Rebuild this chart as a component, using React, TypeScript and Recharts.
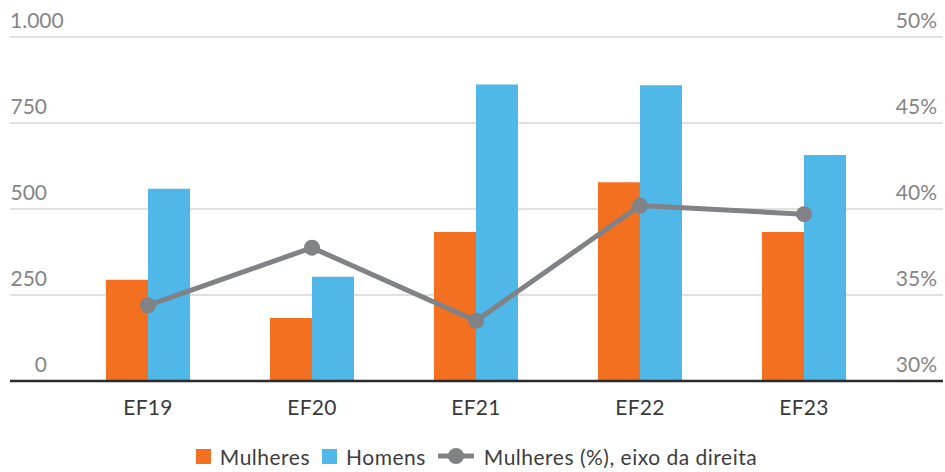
import type { FC, ReactNode } from 'react'
import {
    ComposedChart,
    Bar,
    Line,
    XAxis,
    YAxis,
    CartesianGrid,
    Legend
} from 'recharts'

const YEARS = ['EF19', 'EF20', 'EF21', 'EF22', 'EF23']
const WOMEN = [294, 183, 433, 578, 433]
const MEN = [559, 303, 862, 860, 657]
const WOMEN_PCT = [34.4, 37.75, 33.5, 40.2, 39.7]

const LEFT_TICKS = [0, 250, 500, 750, 1000]
const RIGHT_TICKS = [30, 35, 40, 45, 50]

const ORANGE = '#f37021'
const BLUE = '#4fb8e8'
const GREY_LINE = '#808285'
const LABEL = '#858585'
const FONT = 'Lato, "Noto Sans", sans-serif'

const chartData = YEARS.map((year, i) => ({
    year,
    women: WOMEN[i],
    men: MEN[i],
    pct: WOMEN_PCT[i]
}))

const formatThousands = (v: number): string =>
    v.toLocaleString('pt-BR')

const LeftTick = (props: any): ReactNode => {
    const { y, payload } = props
    const label = formatThousands(payload.value)
    const long = label.length > 3
    return (
        <text
            x={long ? 10 : 47}
            y={y - 9}
            textAnchor={long ? 'start' : 'end'}
            fill={LABEL}
            fontSize={21}
            fontFamily={FONT}
        >
            {label}
        </text>
    )
}

const RightTick = (props: any): ReactNode => {
    const { y, payload } = props
    return (
        <text
            x={937}
            y={y - 9}
            textAnchor='end'
            fill={LABEL}
            fontSize={21}
            fontFamily={FONT}
        >
            {payload.value}%
        </text>
    )
}

const BottomTick = (props: any): ReactNode => {
    const { x, y, payload } = props
    return (
        <text
            x={x}
            y={y + 34}
            textAnchor='middle'
            fill='#3a3a3a'
            fontSize={21}
            fontFamily={FONT}
            letterSpacing={0.3}
        >
            {payload.value}
        </text>
    )
}

const Square: FC<{ color: string }> = ({ color }) => (
    <span
        style={{
            display: 'inline-block',
            width: 15,
            height: 15,
            background: color,
            marginRight: 9
        }}
    />
)

const LegendContent = (): ReactNode => (
    <div
        style={{
            height: 24,
            display: 'flex',
            alignItems: 'center',
            justifyContent: 'center',
            fontFamily: FONT,
            fontSize: 21,
            letterSpacing: 0.5,
            color: '#3d3d3d',
            whiteSpace: 'nowrap'
        }}
    >
        <Square color={ORANGE} />
        <span style={{ marginRight: 12 }}>Mulheres</span>
        <Square color={BLUE} />
        <span style={{ marginRight: 12 }}>Homens</span>
        <svg width={36} height={18} style={{ marginRight: 10 }}>
            <line x1={0} y1={9} x2={36} y2={9} stroke={GREY_LINE} strokeWidth={5} />
            <circle cx={18} cy={9} r={8} fill={GREY_LINE} />
        </svg>
        <span>Mulheres (%), eixo da direita</span>
    </div>
)

const App: FC = () => (
    <div style={{ position: 'absolute', left: 0, top: 0, background: '#fff' }}>
        <ComposedChart
            width={945}
            height={472}
            data={chartData}
            margin={{ top: 37, right: 1, left: 9, bottom: 4 }}
            barGap={0}
        >
            <CartesianGrid
                vertical={false}
                stroke='#d6d6d6'
                strokeWidth={1.5}
                yAxisId='left'
            />
            <XAxis
                dataKey='year'
                padding={{ left: 56, right: 57 }}
                tickLine={false}
                tickSize={0}
                tickMargin={0}
                axisLine={{ stroke: '#2b2b2b', strokeWidth: 2.5 }}
                height={63}
                tick={BottomTick}
                interval={0}
            />
            <YAxis
                yAxisId='left'
                domain={[0, 1000]}
                ticks={LEFT_TICKS}
                width={1}
                axisLine={false}
                tickLine={false}
                tick={LeftTick}
                interval={0}
            />
            <YAxis
                yAxisId='right'
                orientation='right'
                domain={[30, 50]}
                ticks={RIGHT_TICKS}
                width={1}
                axisLine={false}
                tickLine={false}
                tick={RightTick}
                interval={0}
            />
            <Legend verticalAlign='bottom' content={LegendContent} />
            <Bar
                yAxisId='left'
                dataKey='women'
                name='Mulheres'
                fill={ORANGE}
                barSize={42}
                isAnimationActive={false}
            />
            <Bar
                yAxisId='left'
                dataKey='men'
                name='Homens'
                fill={BLUE}
                barSize={42}
                isAnimationActive={false}
            />
            <Line
                yAxisId='right'
                dataKey='pct'
                name='Mulheres (%), eixo da direita'
                type='linear'
                stroke={GREY_LINE}
                strokeWidth={5}
                dot={{ r: 8, fill: GREY_LINE, stroke: 'none' }}
                activeDot={false}
                isAnimationActive={false}
            />
        </ComposedChart>
    </div>
)

export default App
